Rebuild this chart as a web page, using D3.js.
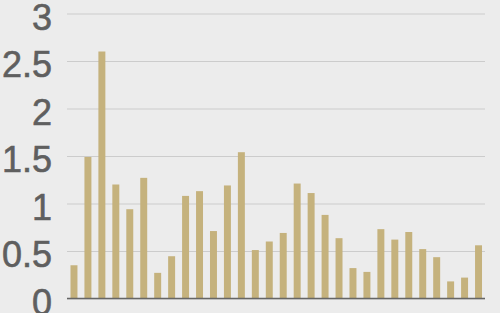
<!DOCTYPE html>
<html><head><meta charset="utf-8">
<script src="https://cdn.jsdelivr.net/npm/d3@7"></script>
<style>html,body{margin:0;padding:0;background:#ececec;}svg{display:block;}</style>
</head><body>
<script>
const categories = d3.range(1, 31).map(String);
const values = [0.35,1.49,2.60,1.20,0.94,1.27,0.27,0.445,1.08,1.13,0.71,1.19,1.54,
  0.51,0.60,0.69,1.21,1.11,0.88,0.635,0.32,0.28,0.73,0.62,0.70,0.52,0.435,0.18,0.22,0.56];
const yTicks = [0,0.5,1,1.5,2,2.5,3];

const W = 500, H = 313;
const svg = d3.select("body").append("svg").attr("width", W).attr("height", H);
svg.append("rect").attr("width", W).attr("height", H).attr("fill", "#ececec");

const x = d3.scaleBand().domain(categories).range([67, 485.5]).paddingInner(0.5).paddingOuter(0.25);
const y = d3.scaleLinear().domain([0, 3]).range([298.5, 13.5]);

const yAxis = svg.append("g").attr("transform", "translate(67,0)")
  .call(d3.axisLeft(y).tickValues(yTicks).tickSize(-(485 - 67)).tickFormat(d3.format("")));
yAxis.select(".domain").remove();
yAxis.selectAll(".tick line").attr("stroke", "#cccccc").attr("stroke-width", 1);
yAxis.selectAll(".tick text")
  .attr("x", -15).attr("dy", "0.44em")
  .attr("fill", "#5f5f5f")
  .attr("stroke", "#5f5f5f").attr("stroke-width", 0.6)
  .style("font-family", "Liberation Sans, Arial, sans-serif")
  .style("font-size", "36px");

svg.append("g").selectAll("rect").data(values).join("rect")
  .attr("x", (d, i) => x(categories[i]))
  .attr("width", x.bandwidth())
  .attr("y", d => y(d))
  .attr("height", d => y(0) - y(d))
  .attr("fill", "#c5b27d");

svg.append("line").attr("x1", 67).attr("x2", 485).attr("y1", y(0)).attr("y2", y(0))
  .attr("stroke", "#666666").attr("stroke-width", 1.5);
</script>
</body></html>
